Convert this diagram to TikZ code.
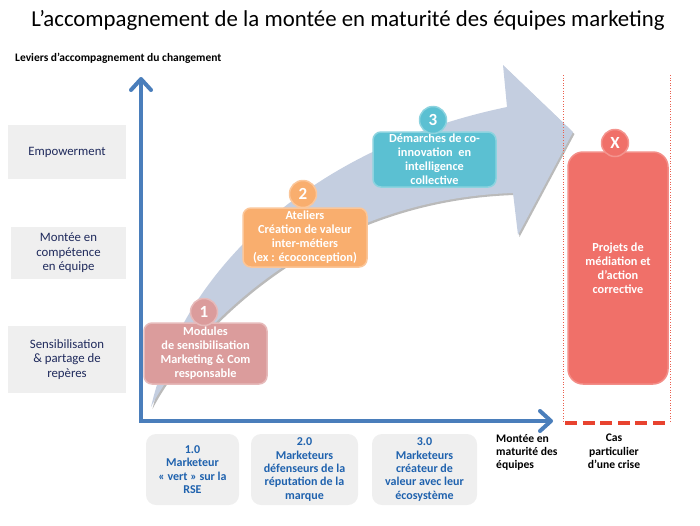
\documentclass[tikz,border=0pt]{standalone}
\usepackage{fontspec}
\setmainfont{Carlito}
\usetikzlibrary{
  arrows.meta,
  positioning,
  shadows
}

\definecolor{axisblue}{HTML}{4A7EBB}
\definecolor{flowblue}{HTML}{C4CEE0}
\definecolor{leverbg}{HTML}{EFEFEF}
\definecolor{navytext}{HTML}{1F2A5C}
\definecolor{stageblue}{HTML}{1F62AE}
\definecolor{roseone}{HTML}{DB9C9C}
\definecolor{orangetwo}{HTML}{F9AE6E}
\definecolor{tealthree}{HTML}{5BC0D2}
\definecolor{crisisred}{HTML}{F07069}
\definecolor{dashred}{HTML}{E8432F}

\tikzset{
  lever/.style={fill=leverbg, text=navytext, align=center,
    font=\fontsize{12.8}{14.6}\selectfont, inner sep=0pt},
  stage/.style={fill=leverbg, rounded corners=10pt, text=stageblue, align=center,
    font=\bfseries\fontsize{12}{13.4}\selectfont, minimum height=71pt, inner sep=0pt},
  action/.style={rounded corners=8pt, text=white, align=center,
    font=\bfseries\fontsize{12.3}{14}\selectfont, line width=1.5pt, inner sep=0pt},
  badge/.style={circle, minimum size=27pt, inner sep=0pt, text=white,
    font=\bfseries\fontsize{17}{17}\selectfont, line width=1.5pt},
  axislabel/.style={font=\bfseries\fontsize{11.6}{13.3}\selectfont, inner sep=0pt},
  axistip/.tip={Straight Barb[length=11pt,width=20pt,round]}
}

\begin{document}
\begin{tikzpicture}[x=1pt,y=-1pt]
  \useasboundingbox (0,0) rectangle (700,525);

  % Title and axis heading
  \node (title) at (348,20) {\fontsize{22.8}{26}\selectfont L’accompagnement de la montée en maturité des équipes marketing};
  \node[anchor=west, inner sep=0pt, font=\bfseries\fontsize{11.5}{13}\selectfont] (leviers) at (15,58) {Leviers d’accompagnement du changement};

  % Curved progress arrow
  \fill[flowblue, drop shadow={shadow xshift=1.5pt, shadow yshift=-2pt, fill=black!45, opacity=0.6}]
    (151,407) .. controls (180,280) and (300,150) .. (507,107)
    -- (503,65) -- (573,132) -- (518,235) -- (513,193)
    .. controls (300,200) and (180,350) .. (151,407) -- cycle;

  % Levers on the left
  \node[lever, minimum width=118pt, minimum height=54pt] (empower) at (67,152) {Empowerment};
  \node[lever, minimum width=115pt, minimum height=52pt] (competence) at (68.5,253) {Montée en\\compétence\\en équipe};
  \node[lever, minimum width=118pt, minimum height=67pt] (awareness) at (67,359.5) {Sensibilisation\\\& partage de\\repères};

  % Actions along the arrow
  \node[action, fill=roseone, draw=roseone!70!white, minimum width=123pt, minimum height=61pt] (modules) at (205.5,353.5) {Modules\\de sensibilisation\\Marketing \& Com\\responsable};
  \node[badge, fill=roseone, draw=roseone!70!white] (one) at (204,312) {1};

  \node[action, fill=orangetwo, draw=orangetwo!70!white, minimum width=124pt, minimum height=59pt] (ateliers) at (305,237.5) {Ateliers\\Création de valeur\\inter-métiers\\(ex : écoconception)};
  \node[badge, fill=orangetwo, draw=orangetwo!70!white] (two) at (303,194) {2};

  \node[action, fill=tealthree, draw=tealthree!70!white, minimum width=123pt, minimum height=55pt] (coinnov) at (434.5,159.5) {Démarches de co-\\innovation~ en\\intelligence\\collective};
  \node[badge, fill=tealthree, draw=tealthree!70!white] (three) at (433,120) {3};

  % Crisis column
  \draw[dashred!85, line width=0.8pt, dash pattern=on 1pt off 1.6pt] (563,75) -- (563,421);
  \draw[dashred!85, line width=0.8pt, dash pattern=on 1pt off 1.6pt] (670,75) -- (670,421);
  \node[action, rounded corners=15pt, fill=crisisred, draw=crisisred!80!white, minimum width=100pt, minimum height=232pt] (mediation) at (618,268) {Projets de\\médiation et\\d’action\\corrective};
  \node[badge, fill=crisisred, draw=crisisred!75!white] (cross) at (615,143) {X};
  \draw[dashred, line width=4pt, dash pattern=on 12pt off 5.6pt] (565,423) -- (667,423);

  % Axes
  \coordinate (origin) at (141,421);
  \coordinate (ytop) at (141,77);
  \coordinate (xend) at (553,421);
  \draw[axisblue, line width=4pt, {axistip}-{axistip}] (ytop) |- (xend);

  % Maturity stages
  \node[stage, minimum width=93pt] (stageone) at (192.5,469.5) {1.0\\Marketeur\\« vert » sur la\\RSE};
  \node[stage, minimum width=107pt] (stagetwo) at (304.5,469.5) {2.0\\Marketeurs\\défenseurs de la\\réputation de la\\marque};
  \node[stage, minimum width=105pt] (stagethree) at (424.5,469.5) {3.0\\Marketeurs\\créateur de\\valeur avec leur\\écosystème};

  % Axis labels
  \node[axislabel, align=left, anchor=north west] (maturity) at (496,434) {Montée en\\maturité des\\équipes};
  \node[axislabel, align=center, anchor=north] (crisis) at (614,434) {Cas\\particulier\\d’une crise};
\end{tikzpicture}
\end{document}
